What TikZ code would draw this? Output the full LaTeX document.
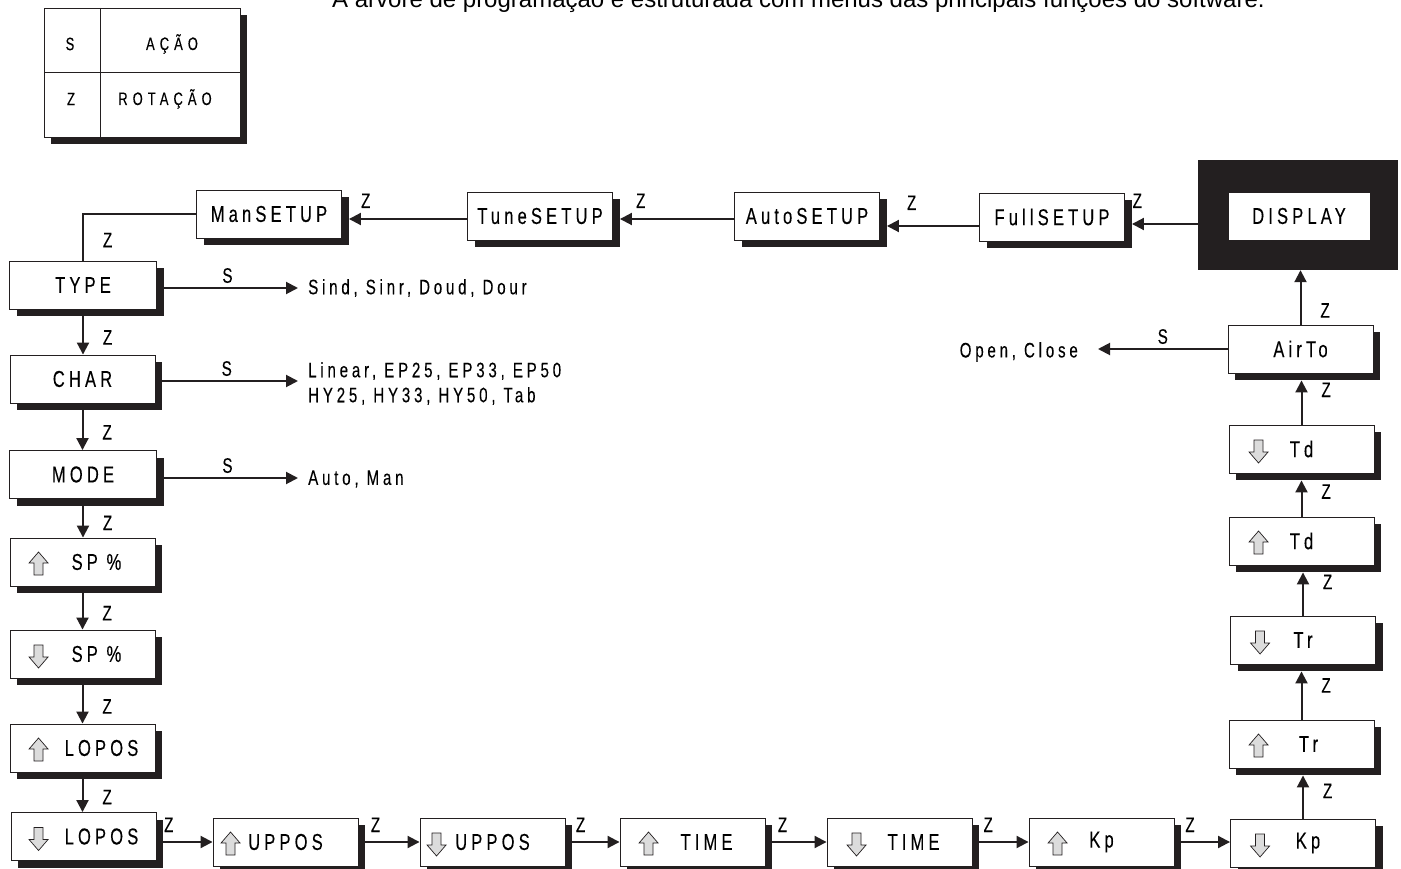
\documentclass[tikz,border=0pt]{standalone}
\usepackage{fontspec}
\setmainfont{Liberation Sans}
\newfontfamily\narrowfont[FakeStretch=0.72,LetterSpace=18,FakeBold=0.2]{Liberation Sans}
\newfontfamily\widefont[FakeStretch=0.72,LetterSpace=28,FakeBold=0.2]{Liberation Sans}
\newfontfamily\labelfont[FakeStretch=0.72,FakeBold=0.2]{Liberation Sans}
\usetikzlibrary{arrows.meta,shadows}

\definecolor{inkblk}{RGB}{35,31,32}
\definecolor{iconfill}{RGB}{220,220,220}

\tikzset{
  plainbox/.style={draw=inkblk, line width=0.9pt, fill=white, minimum width=145pt,
    minimum height=48pt, inner sep=0pt, font={\fontsize{23}{26}\narrowfont}},
  menu/.style={plainbox, drop shadow={shadow xshift=7pt, shadow yshift=-7pt, fill=inkblk, opacity=1}},
  dispframe/.style={fill=inkblk, minimum width=200pt, minimum height=110pt, inner sep=0pt},
  conn/.style={draw=inkblk, line width=2pt, -{Triangle[length=12pt,width=12pt]}},
  link/.style={draw=inkblk, line width=2pt},
  toshadow/.style={shorten >=7pt},
  zl/.style={font={\fontsize{21}{24}\labelfont}, inner sep=0pt},
  opt/.style={font={\fontsize{21}{25}\narrowfont}, inner xsep=10pt, inner ysep=0pt, align=left},
  lg/.style={font={\fontsize{18}{21}\widefont}, inner sep=0pt},
  icon/.style={draw=inkblk, line width=0.7pt, fill=iconfill},
  uparr/.pic={\draw[icon] (0,-12) -- (9.5,-1) -- (4.5,-1) -- (4.5,11) -- (-4.5,11) -- (-4.5,-1) -- (-9.5,-1) -- cycle;},
  dnarr/.pic={\draw[icon] (0,12) -- (9.5,1) -- (4.5,1) -- (4.5,-11) -- (-4.5,-11) -- (-4.5,1) -- (-9.5,1) -- cycle;}
}

\begin{document}
\begin{tikzpicture}[x=1pt,y=-1pt]
\useasboundingbox (0,0) rectangle (1401,869);

% caption (cut at the top, as in the source)
\node[anchor=base west, inner sep=0pt, font={\fontsize{24}{27}\selectfont}] (caption) at (332,8)
  {A árvore de programação é estruturada com menus das principais funções do software.};

% legend
\fill[inkblk] (51,15) rectangle (247,144);
\draw[inkblk, line width=0.9pt, fill=white] (44,8) rectangle (240,137);
\draw[inkblk, line width=0.9pt] (100,8) -- (100,137) (44,72) -- (240,72);
\node[lg] (lgs) at (70,44) {S};
\node[lg] (lgacao) at (172,44) {AÇÃO};
\node[lg] (lgz) at (71,99) {Z};
\node[lg] (lgrot) at (165,99) {ROTAÇÃO};

% top row
\node[menu] (man) at (269,214) {ManSETUP};
\node[menu] (tune) at (540,216) {TuneSETUP};
\node[menu] (auto) at (807,216) {AutoSETUP};
\node[menu] (full) at (1052,217) {FullSETUP};
\node[dispframe] (dispbox) at (1298,215) {};
\node[plainbox, minimum width=142pt] (display) at (1299,216) {DISPLAY};

% left column
\node[menu, minimum width=147pt] (type) at (83,285) {TYPE};
\node[menu] (char) at (82.5,379) {CHAR};
\node[menu, minimum width=147pt] (mode) at (83,474.5) {MODE};
\node[menu] (spup) at (82.5,562) {\hspace*{28pt}SP\ \%};
\node[menu] (spdn) at (82.5,654) {\hspace*{28pt}SP\ \%};
\node[menu] (loup) at (82.5,748) {\hspace*{38pt}LOPOS};
\node[menu] (lodn) at (83.5,836.5) {\hspace*{36pt}LOPOS};

% bottom row
\node[menu] (upup) at (285.5,842) {UPPOS};
\node[menu] (updn) at (492.5,842) {UPPOS};
\node[menu] (timeup) at (692.5,842) {\hspace*{28pt}TIME};
\node[menu] (timedn) at (899.5,842) {\hspace*{28pt}TIME};
\node[menu] (kpup) at (1101.5,842) {Kp};
\node[menu] (kpdn) at (1303,843) {\hspace*{10pt}Kp};

% right column
\node[menu] (trup) at (1301.5,744) {\hspace*{14pt}Tr};
\node[menu] (trdn) at (1303,640) {Tr};
\node[menu] (tdup) at (1301.5,541) {Td};
\node[menu] (tddn) at (1301.5,449) {Td};
\node[menu] (airto) at (1300.5,349) {AirTo};

% option lists
\node[opt, anchor=west] (typeopt) at (298,288) {Sind, Sinr, Doud, Dour};
\node[opt, anchor=west] (charopt) at (298,383.5) {Linear, EP25, EP33, EP50\\HY25, HY33, HY50, Tab};
\node[opt, anchor=west] (modeopt) at (298,479) {Auto, Man};
\node[opt, anchor=east, inner xsep=20pt] (airopt) at (1098,352) {Open, Close};

% arrow icons
\foreach \n/\s in {spup/29, loup/29, upup/18, timeup/29, kpup/29, trup/30, tdup/30}
  \pic at ([xshift=\s pt, yshift=-2pt]\n.west) {uparr};
\foreach \n/\s in {spdn/29, lodn/28, updn/17, timedn/30, kpdn/30, trdn/30, tddn/30}
  \pic at ([xshift=\s pt, yshift=-2pt]\n.west) {dnarr};

% top row links
\draw[conn,toshadow] ([yshift=-9pt]dispbox.west) -- node[zl, above=15pt, pos=0.83]{Z} ([yshift=-9pt]dispbox.west -| full.east);
\draw[conn,toshadow] ([yshift=-9pt]full.west) -- node[zl, above=15pt, pos=0.68]{Z} ([yshift=-9pt]full.west -| auto.east);
\draw[conn,toshadow] ([yshift=-3pt]auto.west) -- node[zl, above=10pt, pos=0.77]{Z} ([yshift=-3pt]auto.west -| tune.east);
\draw[conn,toshadow] ([yshift=-3pt]tune.west) -- node[zl, above=10pt, pos=0.81]{Z} ([yshift=-3pt]tune.west -| man.east);
\draw[link] (man.west) -| node[zl, right=19pt, pos=0.78]{Z} (type.north);

% left column links
\foreach \a/\b in {type/char, char/mode, mode/spup, spup/spdn, spdn/loup, loup/lodn}
  \draw[conn] (\a.south) -- node[zl, right=19pt, pos=0.62]{Z} (\a.south |- \b.north);

% S links
\draw[conn] ([yshift=-3pt]type.east) -- node[zl, above=4pt]{S} ([yshift=-3pt]type.east -| typeopt.west);
\draw[conn] ([yshift=-2pt]char.east) -- node[zl, above=4pt]{S} ([yshift=-2pt]char.east -| charopt.west);
\draw[conn] ([yshift=-3.5pt]mode.east) -- node[zl, above=4pt]{S} ([yshift=-3.5pt]mode.east -| modeopt.west);
\draw[conn] (airto.west) -- node[zl, above=4pt]{S} (airto.west -| airopt.east);

% bottom row links
\draw[conn] (lodn.east |- upup.west) -- node[zl, above=9pt, pos=0.22]{Z} (upup.west);
\foreach \a/\b in {upup/updn, updn/timeup, timeup/timedn, timedn/kpup, kpup/kpdn}
  \draw[conn] (\a.east) -- node[zl, above=9pt, pos=0.28]{Z} (\a.east -| \b.west);

% right column links
\foreach \a/\b/\p in {kpdn/trup/0.55, trup/trdn/0.62, trdn/tdup/0.67, tdup/tddn/0.58, tddn/airto/0.68}
  \draw[conn,toshadow] (\a.north) -- node[zl, right=19pt, pos=\p]{Z} (\a.north |- \b.south);
\draw[conn] (airto.north) -- node[zl, right=19pt, pos=0.26]{Z} (airto.north |- dispbox.south);
\end{tikzpicture}
\end{document}
